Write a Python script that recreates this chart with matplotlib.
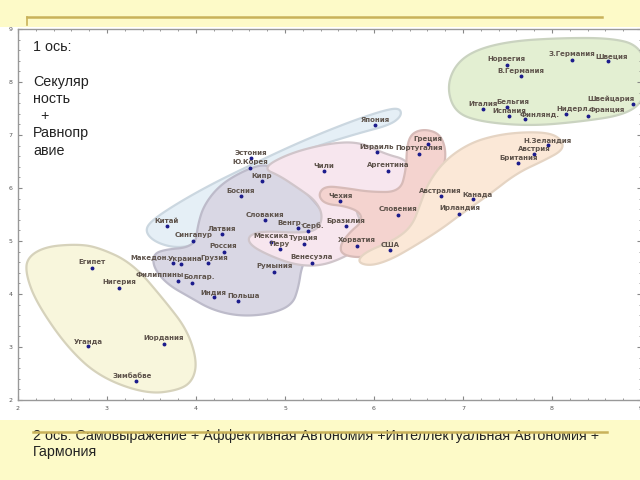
import matplotlib.pyplot as plt
import matplotlib
import numpy as np
from matplotlib.patches import Polygon, Rectangle
from matplotlib.lines import Line2D
from matplotlib.ticker import MultipleLocator

# страны и их координаты (ось 2 -> x, ось 1 -> y)
countries = ['Египет', 'Нигерия', 'Уганда', 'Иордания', 'Зимбабве',
             'Китай', 'Сингапур', 'Латвия', 'Россия', 'Македон.', 'Украина',
             'Грузия', 'Филиппины', 'Болгар.', 'Индия', 'Польша',
             'Эстония', 'Ю.Корея', 'Кипр', 'Босния', 'Словакия', 'Венгр.',
             'Серб.', 'Мексика', 'Турция', 'Перу', 'Венесуэла', 'Румыния',
             'Япония', 'Израиль', 'Португалия', 'Греция', 'Чили', 'Аргентина',
             'Чехия', 'Словения', 'Бразилия', 'Хорватия', 'США',
             'Норвегия', 'З.Германия', 'Швеция', 'В.Германия', 'Италия',
             'Бельгия', 'Испания', 'Финлянд.', 'Нидерл.', 'Франция',
             'Швейцария', 'Н.Зеландия', 'Австрия', 'Британия',
             'Австралия', 'Канада', 'Ирландия']
axis2 = [2.83, 3.14, 2.79, 3.64, 3.33,
         3.67, 3.97, 4.29, 4.31, 3.74, 3.83,
         4.13, 3.80, 3.96, 4.20, 4.47,
         4.62, 4.61, 4.74, 4.50, 4.78, 5.15,
         5.26, 4.84, 5.21, 4.94, 5.30, 4.88,
         6.01, 6.03, 6.51, 6.61, 5.44, 6.16,
         5.62, 6.27, 5.68, 5.81, 6.18,
         7.49, 8.22, 8.63, 7.65, 7.22,
         7.49, 7.52, 7.70, 8.16, 8.41,
         8.91, 7.95, 7.80, 7.62,
         6.75, 7.11, 6.96]
axis1 = [4.50, 4.12, 3.01, 3.06, 2.35,
         5.28, 5.00, 5.13, 4.80, 4.59, 4.56,
         4.58, 4.25, 4.21, 3.94, 3.86,
         6.56, 6.38, 6.13, 5.84, 5.39, 5.24,
         5.18, 4.99, 4.95, 4.84, 4.59, 4.42,
         7.18, 6.67, 6.65, 6.83, 6.32, 6.33,
         5.75, 5.50, 5.28, 4.91, 4.83,
         8.33, 8.42, 8.39, 8.11, 7.49,
         7.52, 7.35, 7.30, 7.39, 7.36,
         7.58, 6.81, 6.64, 6.47,
         5.84, 5.79, 5.51]

# сдвиг подписей по горизонтали (пиксели), остальные по центру
label_dx = {'Македон.': -23, 'Украина': 4, 'Грузия': 7, 'Филиппины': -18,
            'Болгар.': 7, 'Польша': 6, 'Венгр.': -8, 'Серб.': 5,
            'Швеция': 4, 'Бельгия': 6, 'Финлянд.': 14, 'Нидерл.': 7,
            'Франция': 18, 'Швейцария': -22, 'Канада': 5, 'Зимбабве': -4}

# контуры групп (в координатах осей)
africa = [(2.10, 4.68), (2.30, 4.89), (2.64, 4.94), (2.89, 4.89), (3.29, 4.58),
          (3.67, 3.83), (3.90, 3.32), (4.01, 2.75), (3.97, 2.38), (3.82, 2.19),
          (3.45, 2.11), (2.92, 2.43), (2.55, 3.00), (2.21, 3.83), (2.09, 4.36)]
protestant = [(6.82, 7.89), (6.91, 8.32), (7.13, 8.60), (7.53, 8.77), (8.09, 8.83),
              (8.65, 8.83), (8.97, 8.70), (9.08, 8.23), (9.04, 7.66), (8.82, 7.38),
              (8.31, 7.25), (7.75, 7.17), (7.19, 7.25), (6.91, 7.43)]
confucian = [(3.43, 5.17), (3.48, 5.36), (3.76, 5.68), (4.16, 6.06), (4.61, 6.43),
             (5.17, 6.87), (5.73, 7.25), (6.12, 7.47), (6.29, 7.51), (6.31, 7.36),
             (6.18, 7.19), (5.84, 7.04), (5.39, 6.81), (4.94, 6.53), (4.61, 6.25),
             (4.21, 5.77), (4.04, 5.21), (3.99, 4.92), (3.76, 4.87), (3.54, 4.98)]
orthodox = [(4.81, 6.47), (5.08, 6.15), (5.30, 5.81), (5.45, 5.49), (5.46, 5.11),
            (5.30, 4.83), (5.19, 4.55), (5.15, 4.11), (5.08, 3.79), (4.83, 3.62),
            (4.49, 3.58), (4.18, 3.70), (3.93, 3.94), (3.69, 4.17), (3.54, 4.45),
            (3.51, 4.70), (3.60, 4.83), (3.99, 4.89), (4.02, 5.30), (4.09, 5.68),
            (4.27, 6.06), (4.55, 6.34)]
latin = [(4.742, 6.377), (5.056, 6.660), (5.506, 6.849), (5.843, 6.868),
         (6.124, 6.642), (6.382, 6.528), (6.438, 6.189), (6.404, 5.906),
         (6.236, 5.792), (5.843, 5.830), (5.787, 5.547), (5.910, 5.245),
         (5.843, 4.887), (5.652, 4.679), (5.393, 4.528), (5.112, 4.547),
         (4.809, 4.736), (4.607, 4.925), (4.584, 5.094), (4.742, 5.189),
         (5.169, 5.151), (5.371, 5.208), (5.427, 5.491), (5.337, 5.774),
         (5.146, 6.000), (4.944, 6.226)]
catholic = [(5.371, 5.868), (5.449, 6.038), (5.674, 6.000), (5.955, 5.925),
            (6.292, 5.925), (6.360, 6.340), (6.371, 6.811), (6.427, 7.038),
            (6.573, 7.113), (6.742, 7.019), (6.809, 6.717), (6.787, 6.377),
            (6.629, 6.057), (6.539, 5.679), (6.494, 5.358), (6.348, 5.019),
            (6.124, 4.792), (5.865, 4.679), (5.640, 4.736), (5.618, 4.925),
            (5.730, 5.170), (5.865, 5.358), (5.843, 5.547), (5.674, 5.660),
            (5.449, 5.698)]
english = [(5.809, 4.604), (5.899, 4.792), (6.236, 5.019), (6.427, 5.283),
           (6.517, 5.679), (6.607, 6.094), (6.798, 6.528), (7.079, 6.849),
           (7.382, 7.000), (7.697, 7.057), (7.978, 7.038), (8.112, 6.906),
           (8.124, 6.717), (7.921, 6.528), (7.607, 6.283), (7.303, 5.887),
           (6.966, 5.491), (6.742, 5.208), (6.438, 4.887), (6.180, 4.642),
           (5.955, 4.528)]

x_ticks = [2, 3, 4, 5, 6, 7, 8, 9]
y_ticks = [2, 3, 4, 5, 6, 7, 8, 9]


def smooth(pts, n=4):
    # сглаживание контура (Chaikin)
    p = np.asarray(pts, float)
    for _ in range(n):
        q = np.roll(p, -1, axis=0)
        r = np.empty((2 * len(p), 2))
        r[0::2] = 0.75 * p + 0.25 * q
        r[1::2] = 0.25 * p + 0.75 * q
        p = r
    return p


fig = plt.figure(figsize=(6.4, 4.8), dpi=100, facecolor='#fdfac8')
# белая область слайда
fig.patches.append(Rectangle((0, 60 / 480), 1, 393 / 480, transform=fig.transFigure,
                             facecolor='white', edgecolor='none', zorder=-5))
# линии оформления
fig.add_artist(Line2D([27 / 640, 602 / 640], [463 / 480, 463 / 480], color='#c9b25a', lw=1.8))
fig.add_artist(Line2D([27 / 640, 27 / 640], [463 / 480, 455 / 480], color='#c9b25a', lw=1.2))

ax = fig.add_axes([18 / 640, 80 / 480, 623 / 640, 371 / 480])
ax.set_zorder(1)
ax.set_facecolor('none')
ax.set_xlim(2, 9)
ax.set_ylim(2, 9)

groups = [(africa, '#f8f6dc', '#d6d2bb'),
          (protestant, '#e3efd2', '#cad3c0'),
          (confucian, '#e5eff6', '#cbd7e0'),
          (orthodox, '#d9d7e4', '#bdbbca'),
          (latin, '#f7e6ee', '#d0c5ca'),
          (catholic, '#f4d3cf', '#d7bbb8'),
          (english, '#fbe8d7', '#e5d4c3')]
for i, (outline, fc, ec) in enumerate(groups):
    ax.add_patch(Polygon(smooth(outline), closed=True, facecolor=fc, edgecolor=ec,
                         lw=1.6, zorder=1 + i * 0.1))

ax.plot(axis2, axis1, 'o', color='#1c1c8c', markersize=1.8, zorder=3, clip_on=False)
for name, x, y in zip(countries, axis2, axis1):
    ax.annotate(name, (x, y), xytext=(label_dx.get(name, 0), 5.5), textcoords='offset pixels',
                ha='center', va='center', fontsize=5, color='#5e534b', fontweight='bold',
                family='DejaVu Sans', zorder=4)

ax.set_xticks(x_ticks)
ax.set_yticks(y_ticks)
ax.xaxis.set_minor_locator(MultipleLocator(0.2))
ax.yaxis.set_minor_locator(MultipleLocator(0.2))
ax.tick_params(which='both', direction='in', top=True, right=True, colors='#888888',
               labelcolor='#555555', labelsize=4.5, pad=4)
ax.tick_params(which='major', length=3)
ax.tick_params(which='minor', length=1.5)
for s in ax.spines.values():
    s.set_color('#999999')
    s.set_linewidth(1)

fig.text(33 / 640, 1 - 40 / 480, '1 ось:\n\nСекуляр\nность\n  +\nРавнопр\nавие',
         fontsize=10.3, family='Liberation Sans', color='#222222', va='top',
         ha='left', linespacing=1.3, zorder=5)
fig.text(33 / 640, 1 - 429 / 480,
         '2 ось: Самовыражение + Аффективная Автономия +Интеллектуальная Автономия +\nГармония',
         fontsize=10.3, family='Liberation Sans', color='#222222', va='top', ha='left',
         linespacing=1.15, zorder=5)
fig.add_artist(Line2D([33 / 640, 607 / 640], [48 / 480, 48 / 480], color='#c9b25a', lw=1.8,
                      zorder=6))

plt.savefig('out.png', dpi=100, facecolor=fig.get_facecolor())
